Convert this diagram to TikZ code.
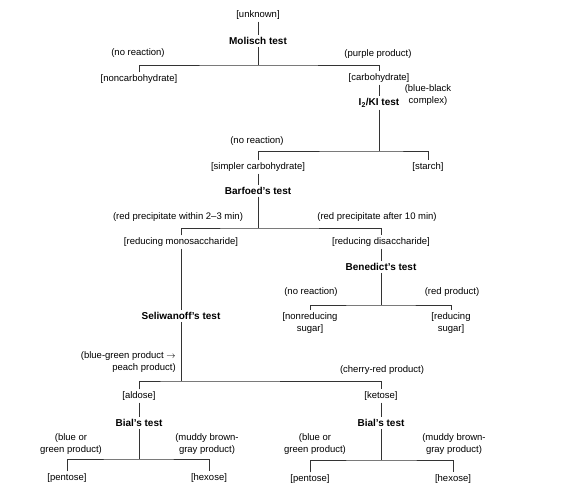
\documentclass[tikz,border=0pt]{standalone}
\usepackage{fontspec}
\setmainfont{Liberation Sans}
\usepackage{tikz}
\usetikzlibrary{positioning,calc}
\tikzstyle{res}= [inner sep=2pt]
\tikzstyle{tst}= [inner sep=2pt, font=\bfseries]
\tikzstyle{obs}= [inner sep=1pt, align=center]

\begin{document}
\begin{tikzpicture}[x=1pt, y=-1pt, font=\fontsize{9.5}{12.5}\selectfont, line width=0.6pt, draw=black!80]
				\useasboundingbox (0,0) rectangle (566,496);
				% results and tests
				\node[res] (unknown) at (258, 15) {[unknown]};
				\node[tst] (molisch) at (258, 41) {Molisch test};
				\node[res] (noncarb) at (139, 79) {[noncarbohydrate]};
				\node[res] (carb) at (379, 78) {[carbohydrate]};
				\node[tst] (iki) at (379, 103) {I\textsubscript{2}/KI test};
				\node[res] (simpler) at (258, 167) {[simpler carbohydrate]};
				\node[res] (starch) at (428, 167) {[starch]};
				\node[tst] (barfoed) at (258, 191) {Barfoed's test};
				\node[res] (redmono) at (181, 242) {[reducing monosaccharide]};
				\node[res] (reddi) at (381, 242) {[reducing disaccharide]};
				\node[tst] (benedict) at (381, 267) {Benedict's test};
				\node[res, align=center] (nonred) at (310, 323) {[nonreducing\\ sugar]};
				\node[res, align=center] (redsug) at (451, 323) {[reducing\\ sugar]};
				\node[tst] (seliw) at (181, 316) {Seliwanoff's test};
				\node[res] (aldose) at (139, 396) {[aldose]};
				\node[res] (ketose) at (381, 396) {[ketose]};
				\node[tst] (bialA) at (139, 423) {Bial's test};
				\node[tst] (bialK) at (381, 423) {Bial's test};
				\node[res] (pentA) at (67, 478) {[pentose]};
				\node[res] (hexA) at (209, 478) {[hexose]};
				\node[res] (pentK) at (310, 479) {[pentose]};
				\node[res] (hexK) at (453, 479) {[hexose]};
				% observations
				\node[obs] (noreactA) at (138, 53) {(no reaction)};
				\node[obs] (purple) at (378, 54) {(purple product)};
				\node[obs] (noreactB) at (257, 141) {(no reaction)};
				\node[obs] (blueblack) at (428, 95) {(blue-black\\ complex)};
				\node[obs] (within) at (178, 217) {(red precipitate within 2--3 min)};
				\node[obs] (after) at (377, 217) {(red precipitate after 10 min)};
				\node[obs] (noreactC) at (311, 292) {(no reaction)};
				\node[obs] (redprod) at (452, 292) {(red product)};
				\node[obs, align=right, anchor=east] (bluegreen) at (177, 362) {(blue-green product $\rightarrow$\\ peach product)};
				\node[obs] (cherry) at (382, 370) {(cherry-red product)};
				\node[obs] (blueA) at (71, 444) {(blue or\\ green product)};
				\node[obs] (muddyA) at (207, 444) {(muddy brown-\\ gray product)};
				\node[obs] (blueK) at (315, 444) {(blue or\\ green product)};
				\node[obs] (muddyK) at (454, 444) {(muddy brown-\\ gray product)};
				% branch points
				\coordinate (j1) at (258, 65);
				\coordinate (j2) at (379, 151);
				\coordinate (j3) at (258, 228);
				\coordinate (j4) at (381, 305);
				\coordinate (j5) at (181, 381);
				\coordinate (j6) at (139, 459);
				\coordinate (j7) at (381, 460);
				% connectors
				\draw(unknown) -- (molisch);
				\draw(molisch) -- (j1);
				\draw(noncarb) |- (j1) -| (carb);
				\draw(carb) -- (iki);
				\draw(iki) -- (j2);
				\draw(simpler) |- (j2) -| (starch);
				\draw(simpler) -- (barfoed);
				\draw(barfoed) -- (j3);
				\draw(redmono) |- (j3) -| (reddi);
				\draw(reddi) -- (benedict);
				\draw(benedict) -- (j4);
				\draw(nonred) |- (j4) -| (redsug);
				\draw(redmono) -- (seliw);
				\draw(seliw) -- (j5);
				\draw(aldose) |- (j5) -| (ketose);
				\draw(aldose) -- (bialA);
				\draw(ketose) -- (bialK);
				\draw(bialA) -- (j6);
				\draw(pentA) |- (j6) -| (hexA);
				\draw(bialK) -- (j7);
				\draw(pentK) |- (j7) -| (hexK);
			\end{tikzpicture}
\end{document}
